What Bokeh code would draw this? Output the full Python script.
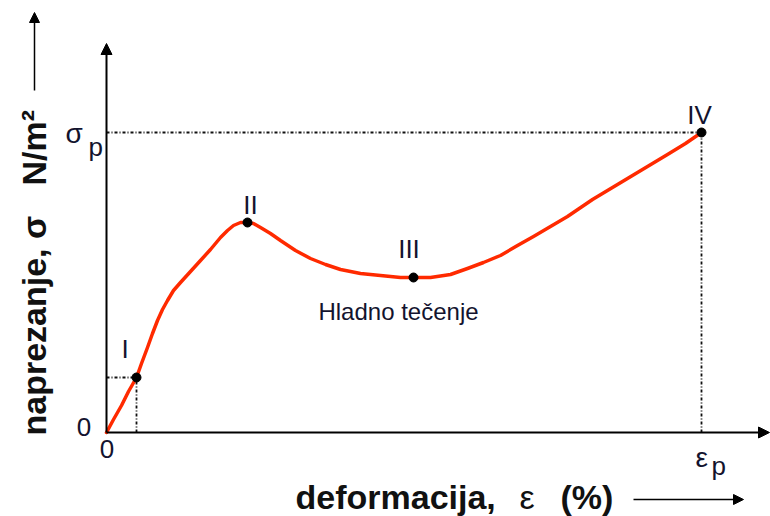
import math
from bokeh.plotting import figure
from bokeh.models import Range1d, Arrow, NormalHead, Label, ColumnDataSource
from bokeh.core.properties import value
from bokeh.embed import file_html
from bokeh.resources import INLINE

# ---------------- data ----------------
strain = [0, 1.4, 3.0, 4.4, 6.0, 7.0, 8.2, 9.2, 10.2, 11.2, 12.2, 13.4, 14.8,
          16.8, 18.8, 20.8, 22.8, 24.2, 25.4, 26.8, 28.2, 29.4, 30.8, 32.8,
          34.8, 37.8, 40.8, 43.8, 46.8, 50.8, 54.8, 58.8, 61.4, 64.8, 68.8,
          72.2, 75.4, 78.8, 82.2, 85.4, 88.8, 92.2, 97.2, 102.2, 107.2, 112.2,
          115.8, 119.0]
stress = [0, 2.6, 5.4, 8.2, 11.0, 13.8, 17.0, 19.8, 22.4, 24.6, 26.4, 28.4, 30.0,
          32.2, 34.4, 36.6, 39.0, 40.4, 41.4, 42.0, 42.0, 41.8, 41.0, 39.8,
          38.4, 36.4, 34.8, 33.6, 32.6, 31.8, 31.4, 31.0, 31.0, 31.0, 31.6,
          32.8, 34.0, 35.4, 37.4, 39.2, 41.2, 43.2, 46.6, 49.6, 52.6, 55.6,
          57.8, 60.0]

point_names = ["I", "II", "III", "IV"]
point_strain = [6.0, 28.2, 61.4, 119.0]
point_stress = [11.0, 42.0, 31.0, 60.0]
guide_points = [0, 3]          # points I and IV get dotted guide lines

y_tick_labels = ["0", "σ", "p"]
x_tick_labels = ["0", "ε", "p"]
y_title = ["naprezanje, σ", "N/m²"]
x_title = ["deformacija,", "ε", "(%)"]
note_text = "Hladno tečenje"

# ---------------- layout helpers (picture pixel -> data units) ----------------
W, H = 770, 516
OX, OY, S = 106, 432, 5.0      # pixel position of origin, px per unit


def X(px):
    return (px - OX) / S


def Y(py):
    return (OY - py) / S


FONT = "Liberation Sans"
TXT = "#13132e"
RED = "#ff2a00"

p = figure(width=W, height=H, output_backend="svg", toolbar_location=None,
           x_range=Range1d(X(0), X(W)), y_range=Range1d(Y(H), Y(0)),
           x_axis_location=None, y_axis_location=None, min_border=0,
           outline_line_color=None, background_fill_color="white",
           border_fill_color="white")
p.xgrid.visible = False
p.ygrid.visible = False

# axes with arrow heads
p.add_layout(Arrow(end=NormalHead(size=11, fill_color="black", line_color="black", line_width=1),
                   x_start=0, y_start=0, x_end=0, y_end=Y(43),
                   line_color="black", line_width=2))
p.add_layout(Arrow(end=NormalHead(size=11, fill_color="black", line_color="black", line_width=1),
                   x_start=0, y_start=0, x_end=X(769), y_end=0,
                   line_color="black", line_width=2))

# dotted guide lines for points I and IV
gx = [point_strain[i] for i in guide_points]
gy = [point_stress[i] for i in guide_points]
p.segment(x0=[0] * len(gx), y0=gy, x1=gx, y1=gy, line_color="#111111",
          line_width=1.8, line_dash="3 2 1 2")
p.segment(x0=gx, y0=[0] * len(gx), x1=gx, y1=gy, line_color="#111111",
          line_width=1.8, line_dash="3 2 1 2")

# stress-strain curve
p.line(strain, stress, line_color=RED, line_width=3.5, line_join="round", line_cap="round")

# characteristic points
p.scatter(point_strain, point_stress, size=9, color="black")

# point labels (offset from the points)
dx = [-2.3, 0.6, -0.9, -0.4]
dy = [5.8, 3.6, 5.8, 3.6]
lab_src = ColumnDataSource(dict(x=[a + b for a, b in zip(point_strain, dx)],
                                y=[a + b for a, b in zip(point_stress, dy)],
                                t=point_names))
p.text(x="x", y="y", text="t", source=lab_src, text_font=value(FONT),
       text_font_size="26px", text_color=TXT, text_align="center",
       text_baseline="middle")


def label(x, y, text, size, style="normal", align="left", angle=0.0, color=TXT):
    p.add_layout(Label(x=x, y=y, text=text, text_font=FONT, text_font_size=size,
                       text_font_style=style, text_color=color, text_align=align,
                       text_baseline="middle", angle=angle))


# tick-like labels
label(X(83.5), Y(426), y_tick_labels[0], "26px", align="center")
label(X(65), Y(133), y_tick_labels[1], "28px")
label(X(88), Y(146), y_tick_labels[2], "26px")
label(X(106.5), Y(448), x_tick_labels[0], "26px", align="center")
label(X(695), Y(457), x_tick_labels[1], "28px")
label(X(711), Y(465), x_tick_labels[2], "26px")

# note
label(X(398), Y(311), note_text, "24px", align="center")

# axis titles
label(X(295), Y(496), x_title[0], "34px", style="bold", color="#111111")
label(X(519), Y(496), x_title[1], "34px", color="#111111")
label(X(560), Y(496), x_title[2], "34px", style="bold", color="#111111")
p.add_layout(Arrow(end=NormalHead(size=10, fill_color="black", line_color="black", line_width=1),
                   x_start=X(633), y_start=Y(499), x_end=X(743), y_end=Y(499),
                   line_color="black", line_width=1.5))

label(X(33), Y(435), y_title[0], "34px", style="bold", angle=math.pi / 2, color="#111111")
label(X(33), Y(185), y_title[1], "34px", style="bold", angle=math.pi / 2, color="#111111")
p.add_layout(Arrow(end=NormalHead(size=10, fill_color="black", line_color="black", line_width=1),
                   x_start=X(34), y_start=Y(90), x_end=X(34), y_end=Y(12),
                   line_color="black", line_width=1.5))

open("out.html", "w").write(file_html(p, INLINE))
